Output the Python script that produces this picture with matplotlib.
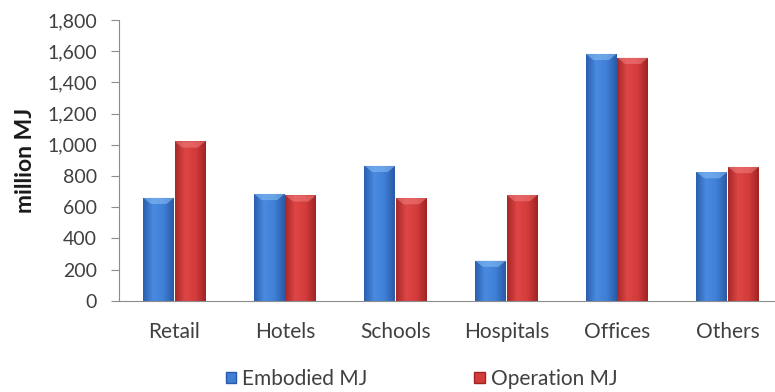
import numpy as np
import matplotlib.pyplot as plt
from matplotlib.colors import LinearSegmentedColormap
from matplotlib.patches import Polygon, Patch
from matplotlib.ticker import FuncFormatter

categories = ["Retail", "Hotels", "Schools", "Hospitals", "Offices", "Others"]
embodied = [660, 685, 865, 257, 1583, 825]
operation = [1022, 676, 658, 678, 1558, 858]

plt.rcParams['font.family'] = ['Lato', 'DejaVu Sans']

fig = plt.figure(figsize=(7.75, 3.92), dpi=100)
ax = fig.add_axes([119 / 775, 91.3 / 392, 664 / 775, 280.7 / 392])

x = np.arange(len(categories))
width = 0.28
offset = 0.142

blue_cmap = LinearSegmentedColormap.from_list("b", ["#2b5fae", "#4a8ae0", "#3f7fd6", "#2a5aa6"])
red_cmap = LinearSegmentedColormap.from_list("r", ["#a82828", "#de4646", "#d43c3c", "#a02424"])
grad = np.linspace(0, 1, 64).reshape(1, -1)


def draw_bars(xs, vals, cmap, top_color):
    bars = ax.bar(xs, vals, width, color="none", edgecolor="none")
    for rect in bars:
        x0 = rect.get_x()
        w = rect.get_width()
        h = rect.get_height()
        im = ax.imshow(grad, cmap=cmap, extent=(x0, x0 + w, 0, h),
                       aspect="auto", origin="lower", zorder=2)
        im.set_clip_path(rect)
        # bevel on the top of the bar
        d = 40
        bev = Polygon([(x0, h), (x0 + w, h), (x0 + w * 0.75, h - d), (x0 + w * 0.25, h - d)],
                      closed=True, facecolor=top_color, edgecolor="none", alpha=0.55, zorder=3)
        ax.add_patch(bev)
    return bars


draw_bars(x - offset, embodied, blue_cmap, "#8cc0f6")
draw_bars(x + offset, operation, red_cmap, "#f08080")

ax.set_xlim(-0.5, len(categories) - 0.5)
ax.set_ylim(0, 1800)
ax.set_yticks(np.arange(0, 1801, 200))
ax.yaxis.set_major_formatter(FuncFormatter(lambda v, p: f"{int(v):,}"))
ax.set_xticks(x)
ax.set_xticklabels(categories)

for s in ["top", "right"]:
    ax.spines[s].set_visible(False)
ax.spines["left"].set_color("#8c8c8c")
ax.spines["bottom"].set_color("#8c8c8c")
ax.tick_params(axis="y", length=6, color="#8c8c8c", labelsize=14, labelcolor="#404040", pad=10)
ax.tick_params(axis="x", length=0, labelsize=15, labelcolor="#404040", pad=15)

ax.set_ylabel("million MJ", fontsize=16.5, fontweight="bold", color="#1a1a1a", labelpad=8)

handles = [Patch(facecolor="#3f7fd6", edgecolor="#2a5aa6"),
           Patch(facecolor="#d43c3c", edgecolor="#a02424")]
fig.legend(handles, ["Embodied MJ", "Operation MJ"], loc="lower center",
           bbox_to_anchor=(0.544, -0.04), ncol=2, frameon=False, fontsize=15,
           handlelength=0.5, handleheight=0.5, handletextpad=0.3, columnspacing=5.1,
           labelcolor="#404040")

fig.savefig("out.png", dpi=100)
